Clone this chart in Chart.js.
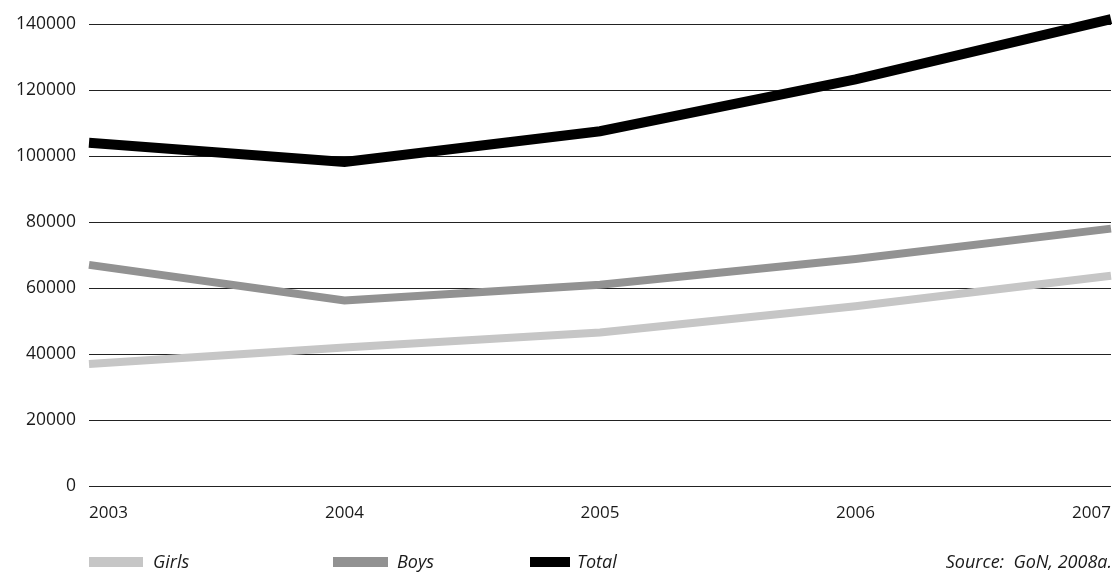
<!DOCTYPE html>
<html>
<head>
<meta charset="utf-8">
<script src="https://cdn.jsdelivr.net/npm/chart.js@4/dist/chart.umd.min.js"></script>
<style>
  html, body { margin: 0; padding: 0; background: #fff; }
  #wrap { position: relative; width: 1118px; height: 574px; }
</style>
</head>
<body>
<div id="wrap"><canvas id="chart" width="1118" height="574"></canvas></div>
<script>
// data
const years = ["2003", "2004", "2005", "2006", "2007"];
const girls = [37000, 42000, 46500, 54500, 63700];
const boys = [67000, 56200, 61000, 68800, 78000];
const total = [104000, 98200, 107500, 123200, 141500];
const yTicks = [0, 20000, 40000, 60000, 80000, 100000, 120000, 140000];

const seriesNames = ["Girls", "Boys", "Total"];
const seriesColors = ["#c6c6c6", "#929292", "#000000"];
const sourceNote = "Source:  GoN, 2008a.";

const FONT = "'Open Sans', 'DejaVu Sans', sans-serif";

// legend row under the axis, drawn by hand (boxes have different widths)
const bottomLegend = {
  id: "bottomLegend",
  afterDraw(chart) {
    const ctx = chart.ctx;
    const y = 562;
    const items = [
      { x: 89, w: 54, tx: 153 },
      { x: 333, w: 55, tx: 397 },
      { x: 530, w: 40, tx: 577 },
    ];
    ctx.save();
    ctx.font = "italic 18px " + FONT;
    ctx.textBaseline = "middle";
    items.forEach((it, i) => {
      ctx.fillStyle = seriesColors[i];
      ctx.fillRect(it.x, y - 5, it.w, 10);
      ctx.fillStyle = "#1a1a1a";
      ctx.textAlign = "left";
      ctx.fillText(seriesNames[i], it.tx, y + 1);
    });
    ctx.textAlign = "right";
    ctx.fillText(sourceNote, chart.chartArea.right + 1, y + 1);
    ctx.restore();
  },
};

const datasets = [girls, boys, total].map((vals, i) => ({
  label: seriesNames[i],
  data: vals,
  borderColor: seriesColors[i],
  backgroundColor: seriesColors[i],
  borderWidth: i === 2 ? 10 : 8,
  pointRadius: 0,
  tension: 0,
  borderCapStyle: "butt",
  borderJoinStyle: "miter",
  clip: false,
  order: 2 - i,
}));

new Chart(document.getElementById("chart").getContext("2d"), {
  type: "line",
  data: { labels: years, datasets: datasets },
  options: {
    responsive: false,
    animation: false,
    layout: { padding: { top: 24, right: 7, left: 0, bottom: 40 } },
    plugins: {
      legend: { display: false },
      tooltip: { enabled: false },
    },
    scales: {
      x: {
        type: "category",
        offset: false,
        grid: { display: false },
        border: { display: false },
        ticks: {
          color: "#1a1a1a",
          font: { family: FONT, size: 17 },
          align: "inner",
          padding: 9,
          maxRotation: 0,
        },
        afterFit(scale) {
          scale.height = 48;
          scale.paddingLeft = 0;
          scale.paddingRight = 0;
        },
      },
      y: {
        min: 0,
        max: 140000,
        border: { display: false },
        grid: { color: "#222", lineWidth: 1, drawTicks: false },
        afterBuildTicks(scale) {
          scale.ticks = yTicks.map((v) => ({ value: v }));
        },
        ticks: {
          color: "#1a1a1a",
          font: { family: FONT, size: 17.5 },
          padding: 13,
          callback: (v) => String(v),
        },
        afterFit(scale) { scale.width = 89; },
      },
    },
  },
  plugins: [bottomLegend],
});
</script>
</body>
</html>
